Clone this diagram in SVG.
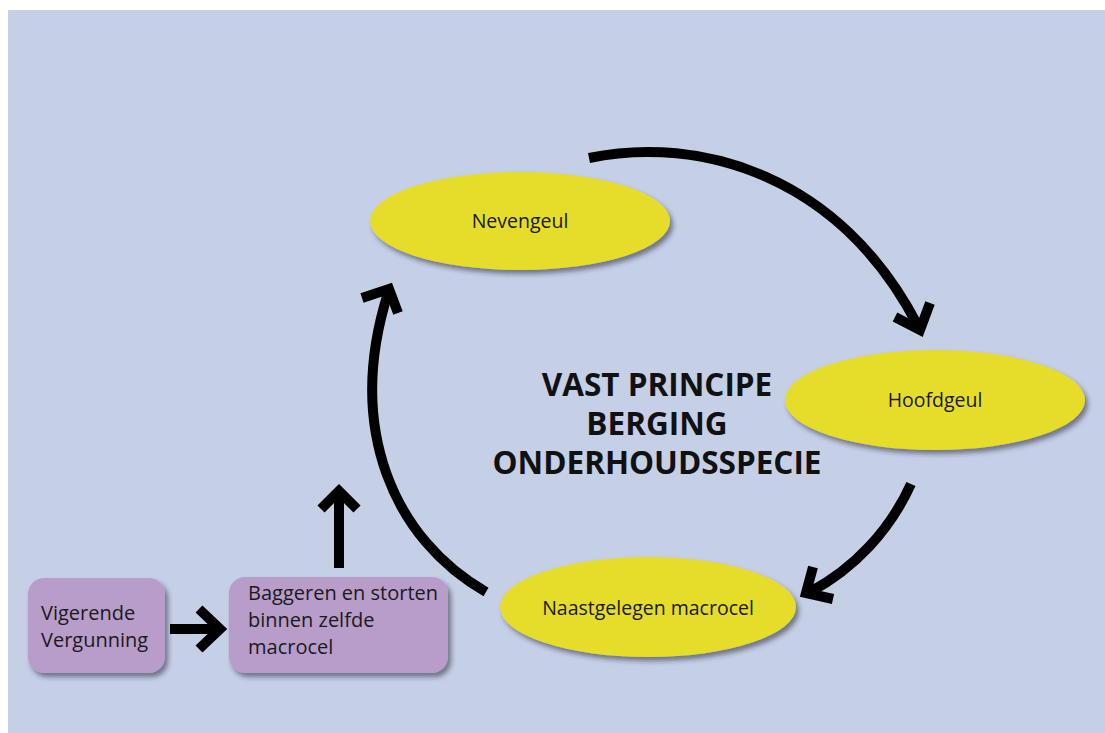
<svg xmlns="http://www.w3.org/2000/svg" width="1105" height="733" viewBox="0 0 1105 733">
  <defs>
    <filter id="shadow" x="-20%" y="-20%" width="140%" height="150%">
      <feDropShadow dx="3" dy="4" stdDeviation="2.5" flood-color="#2a2a3a" flood-opacity="0.55"/>
    </filter>
    <style>
      .bg { fill: #c5cfe6; }
      .ellipse { fill: #e6dc2c; filter: url(#shadow); }
      .box { fill: #b89cca; filter: url(#shadow); }
      .label { font-family: "Open Sans", "Noto Sans", sans-serif; font-size: 19.5px; fill: #1a1a1a; }
      .boxlabel { font-family: "Open Sans", "Noto Sans", sans-serif; font-size: 20px; fill: #1a1a1a; }
      .title { font-family: "Open Sans", "Noto Sans", sans-serif; font-size: 31.5px; font-weight: 700; fill: #111; }
      .shaft { fill: none; stroke: #000; stroke-width: 10; stroke-linecap: butt; }
      .head { fill: none; stroke: #000; stroke-width: 10; stroke-linejoin: miter; stroke-linecap: butt; }
    </style>
  </defs>

  <rect x="0" y="0" width="1105" height="733" fill="#ffffff"/>
  <rect class="bg" x="8" y="10" width="1097" height="723"/>

  <!-- cycle nodes -->
  <g id="node-nevengeul">
    <ellipse class="ellipse" cx="520" cy="221" rx="150" ry="49"/>
    <text class="label" x="520" y="228" text-anchor="middle">Nevengeul</text>
  </g>
  <g id="node-hoofdgeul">
    <ellipse class="ellipse" cx="935" cy="400" rx="150" ry="50"/>
    <text class="label" x="935" y="407" text-anchor="middle">Hoofdgeul</text>
  </g>
  <g id="node-naastgelegen">
    <ellipse class="ellipse" cx="648" cy="607" rx="148" ry="50"/>
    <text class="label" x="648" y="615" text-anchor="middle">Naastgelegen macrocel</text>
  </g>

  <!-- process boxes -->
  <g id="node-vergunning">
    <rect class="box" x="28" y="578" width="137" height="95" rx="16" ry="16"/>
    <text class="boxlabel" x="41" y="620">Vigerende</text>
    <text class="boxlabel" x="41" y="647">Vergunning</text>
  </g>
  <g id="node-baggeren">
    <rect class="box" x="229" y="577" width="219" height="96" rx="16" ry="16"/>
    <text class="boxlabel" x="248" y="600">Baggeren en storten</text>
    <text class="boxlabel" x="248" y="627">binnen zelfde</text>
    <text class="boxlabel" x="248" y="654">macrocel</text>
  </g>

  <!-- centre title -->
  <g id="title">
    <text class="title" x="657" y="396" text-anchor="middle">VAST PRINCIPE</text>
    <text class="title" x="657" y="435" text-anchor="middle">BERGING</text>
    <text class="title" x="657" y="474" text-anchor="middle">ONDERHOUDSSPECIE</text>
  </g>

  <!-- connectors -->
  <g id="connectors">
    <!-- Nevengeul -> Hoofdgeul -->
    <path class="shaft" d="M589,158 C700,135 840,175 918,326"/>
    <polyline class="head" points="895,317 920,330 930,303"/>
    <!-- Hoofdgeul -> Naastgelegen macrocel -->
    <path class="shaft" d="M911,484 C890,530 855,568 810,592"/>
    <polyline class="head" points="813,567 806,593 833,599"/>
    <!-- Naastgelegen macrocel -> Nevengeul -->
    <path class="shaft" d="M486,592 C395,540 345,430 388,293"/>
    <polyline class="head" points="362,298 389,289 398,313"/>
    <!-- Vigerende Vergunning -> Baggeren -->
    <line class="shaft" x1="170" y1="629" x2="218" y2="629"/>
    <polyline class="head" points="199,609 220,629 199,649"/>
    <!-- Baggeren -> cycle -->
    <line class="shaft" x1="339" y1="568" x2="339" y2="494"/>
    <polyline class="head" points="321,509 339,491 357,509"/>
  </g>
</svg>
